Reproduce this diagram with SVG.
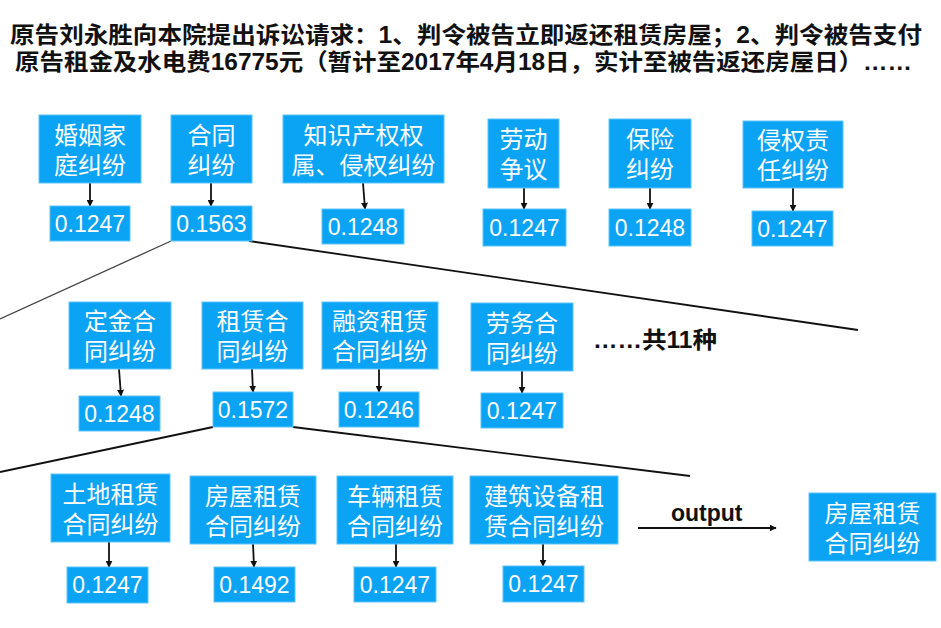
<svg xmlns="http://www.w3.org/2000/svg" width="941" height="628" viewBox="0 0 941 628">
<defs>
<style>
.box{fill:#0BA3F4;stroke:#5cc4fa;stroke-width:1}
.t{font-family:"Noto Sans CJK SC","Liberation Sans",sans-serif;font-size:24px;fill:#fff;text-anchor:middle}
.n{font-family:"Liberation Sans","Noto Sans CJK SC",sans-serif;font-size:23px;fill:#fff;text-anchor:middle}
.title{font-family:"Liberation Sans","Noto Sans CJK SC",sans-serif;font-size:23px;font-weight:bold;fill:#111}
.lbl{font-family:"Liberation Sans","Noto Sans CJK SC",sans-serif;font-size:23px;font-weight:bold;fill:#111}
.arr{stroke:#111;stroke-width:1.8;fill:none;marker-end:url(#ah)}
.ln{stroke:#111;stroke-width:1.8;fill:none}
</style>
<marker id="ah" viewBox="0 0 10 10" refX="9" refY="5" markerWidth="7" markerHeight="7" markerUnits="userSpaceOnUse" orient="auto">
<path d="M0,0 L10,5 L0,10 z" fill="#111"/>
</marker>
</defs>
<rect width="941" height="628" fill="#fff"/>
<g id="title">
<text class="title" x="10" y="43" textLength="912" lengthAdjust="spacingAndGlyphs">原告刘永胜向本院提出诉讼请求：1、判令被告立即返还租赁房屋；2、判令被告支付</text>
<text class="title" x="15" y="70" textLength="897" lengthAdjust="spacingAndGlyphs">原告租金及水电费16775元（暂计至2017年4月18日，实计至被告返还房屋日）……</text>
</g>
<g id="connectors">
<line class="arr" x1="90" y1="183" x2="90" y2="206"/>
<line class="arr" x1="211" y1="183" x2="211" y2="206"/>
<line class="arr" x1="363" y1="183" x2="365" y2="209"/>
<line class="arr" x1="524" y1="188" x2="524" y2="209"/>
<line class="arr" x1="650" y1="188" x2="650" y2="209"/>
<line class="arr" x1="793" y1="188" x2="793" y2="211"/>
<line class="arr" x1="119" y1="369" x2="121" y2="396"/>
<line class="arr" x1="252" y1="369" x2="253" y2="392"/>
<line class="arr" x1="379" y1="369" x2="379" y2="392"/>
<line class="arr" x1="522" y1="371" x2="522" y2="393"/>
<line class="arr" x1="109" y1="542" x2="109" y2="567"/>
<line class="arr" x1="253" y1="544" x2="254" y2="567"/>
<line class="arr" x1="396" y1="544" x2="396" y2="567"/>
<line class="arr" x1="543" y1="544" x2="543" y2="566"/>
<line class="arr" x1="638" y1="528" x2="776" y2="528"/>
<line class="ln" x1="171" y1="241" x2="0" y2="319" style="stroke:#444;stroke-width:1.3"/>
<line class="ln" x1="249" y1="241" x2="858" y2="330"/>
<line class="ln" x1="213" y1="427" x2="0" y2="472"/>
<line class="ln" x1="293" y1="427" x2="690" y2="476"/>
<text class="lbl" x="671" y="521">output</text>
</g>
<g id="n1"><rect class="box" x="39" y="115" width="102" height="68"/><text class="t" y="143.5"><tspan x="90">婚姻家</tspan><tspan x="90" dy="30">庭纠纷</tspan></text></g>
<g id="v1"><rect class="box" x="50" y="206" width="80" height="35"/><text class="n" x="90" y="231.5">0.1247</text></g>
<g id="n2"><rect class="box" x="171" y="115" width="81" height="68"/><text class="t" y="143.5"><tspan x="211.5">合同</tspan><tspan x="211.5" dy="30">纠纷</tspan></text></g>
<g id="v2"><rect class="box" x="171" y="206" width="81" height="35"/><text class="n" x="211.5" y="231.5">0.1563</text></g>
<g id="n3"><rect class="box" x="283" y="115" width="161" height="68"/><text class="t" y="143.5"><tspan x="363.5">知识产权权</tspan><tspan x="363.5" dy="30">属、侵权纠纷</tspan></text></g>
<g id="v3"><rect class="box" x="322" y="209" width="82" height="35"/><text class="n" x="363" y="234.5">0.1248</text></g>
<g id="n4"><rect class="box" x="488" y="119" width="71" height="69"/><text class="t" y="148"><tspan x="523.5">劳动</tspan><tspan x="523.5" dy="30">争议</tspan></text></g>
<g id="v4"><rect class="box" x="483" y="209" width="83" height="37"/><text class="n" x="524.5" y="235.5">0.1247</text></g>
<g id="n5"><rect class="box" x="609" y="119" width="82" height="69"/><text class="t" y="148"><tspan x="650">保险</tspan><tspan x="650" dy="30">纠纷</tspan></text></g>
<g id="v5"><rect class="box" x="609" y="209" width="82" height="37"/><text class="n" x="650" y="235.5">0.1248</text></g>
<g id="n6"><rect class="box" x="743" y="121" width="100" height="67"/><text class="t" y="149"><tspan x="793">侵权责</tspan><tspan x="793" dy="30">任纠纷</tspan></text></g>
<g id="v6"><rect class="box" x="752" y="211" width="81" height="35"/><text class="n" x="792.5" y="236.5">0.1247</text></g>
<g id="n7"><rect class="box" x="69" y="302" width="102" height="67"/><text class="t" y="330"><tspan x="120">定金合</tspan><tspan x="120" dy="30">同纠纷</tspan></text></g>
<g id="v7"><rect class="box" x="79" y="396" width="81" height="35"/><text class="n" x="119.5" y="421.5">0.1248</text></g>
<g id="n8"><rect class="box" x="202" y="302" width="101" height="67"/><text class="t" y="330"><tspan x="252.5">租赁合</tspan><tspan x="252.5" dy="30">同纠纷</tspan></text></g>
<g id="v8"><rect class="box" x="213" y="392" width="80" height="35"/><text class="n" x="253" y="417.5">0.1572</text></g>
<g id="n9"><rect class="box" x="322" y="302" width="116" height="67"/><text class="t" y="330"><tspan x="380">融资租赁</tspan><tspan x="380" dy="30">合同纠纷</tspan></text></g>
<g id="v9"><rect class="box" x="339" y="392" width="80" height="35"/><text class="n" x="379" y="417.5">0.1246</text></g>
<g id="n10"><rect class="box" x="471" y="303" width="102" height="68"/><text class="t" y="331.5"><tspan x="522">劳务合</tspan><tspan x="522" dy="30">同纠纷</tspan></text></g>
<g id="v10"><rect class="box" x="481" y="393" width="82" height="35"/><text class="n" x="522" y="418.5">0.1247</text></g>
<g id="more"><text class="lbl" x="593" y="348" textLength="124" lengthAdjust="spacingAndGlyphs">……共11种</text></g>
<g id="n11"><rect class="box" x="51" y="474" width="119" height="68"/><text class="t" y="502.5"><tspan x="110.5">土地租赁</tspan><tspan x="110.5" dy="30">合同纠纷</tspan></text></g>
<g id="v11"><rect class="box" x="67" y="567" width="81" height="36"/><text class="n" x="107.5" y="593">0.1247</text></g>
<g id="n12"><rect class="box" x="190" y="476" width="126" height="68"/><text class="t" y="504.5"><tspan x="253">房屋租赁</tspan><tspan x="253" dy="30">合同纠纷</tspan></text></g>
<g id="v12"><rect class="box" x="214" y="567" width="81" height="35"/><text class="n" x="254.5" y="592.5">0.1492</text></g>
<g id="n13"><rect class="box" x="337" y="476" width="116" height="68"/><text class="t" y="504.5"><tspan x="395">车辆租赁</tspan><tspan x="395" dy="30">合同纠纷</tspan></text></g>
<g id="v13"><rect class="box" x="354" y="567" width="82" height="35"/><text class="n" x="395" y="592.5">0.1247</text></g>
<g id="n14"><rect class="box" x="470" y="476" width="148" height="68"/><text class="t" y="504.5"><tspan x="544">建筑设备租</tspan><tspan x="544" dy="30">赁合同纠纷</tspan></text></g>
<g id="v14"><rect class="box" x="503" y="566" width="81" height="36"/><text class="n" x="543.5" y="592">0.1247</text></g>
<g id="out"><rect class="box" x="809" y="493" width="127" height="68"/><text class="t" y="521.5"><tspan x="872.5">房屋租赁</tspan><tspan x="872.5" dy="30">合同纠纷</tspan></text></g>
</svg>
